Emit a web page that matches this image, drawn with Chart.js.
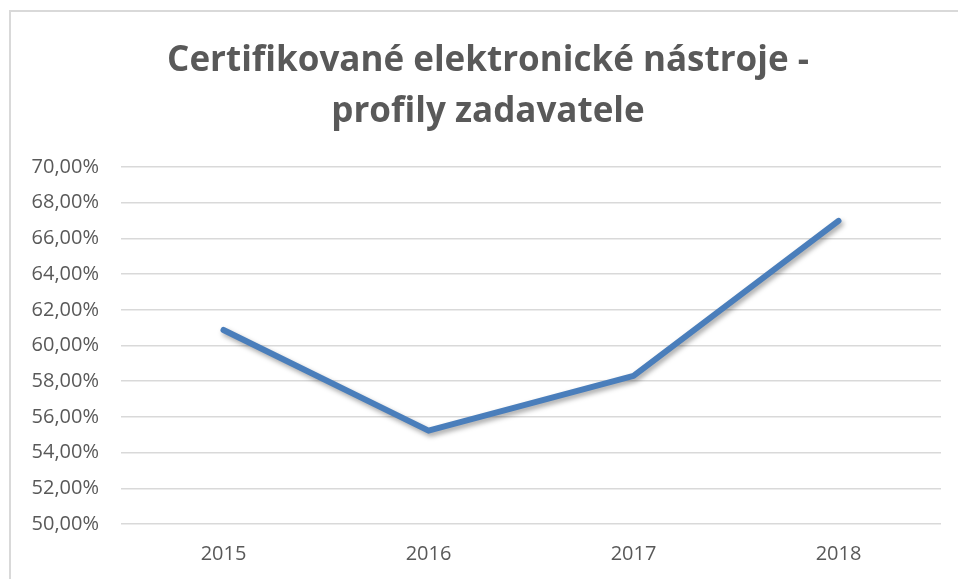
<!DOCTYPE html>
<html>
<head>
<meta charset="utf-8">
<script src="https://cdn.jsdelivr.net/npm/chart.js@4/dist/chart.umd.min.js"></script>
<style>
  html, body { margin: 0; padding: 0; background: #ffffff; }
  #wrap { width: 958px; height: 579px; position: relative; }
</style>
</head>
<body>
<div id="wrap"><canvas id="c" width="958" height="579"></canvas></div>
<script>
const titleLines = ["Certifikované elektronické nástroje -", "profily zadavatele"];
const categories = ["2015", "2016", "2017", "2018"];
const seriesValues = [60.87, 55.23, 58.3, 66.98];
const yMin = 50;
const yMax = 70;
const yStep = 2;

const frame = {
  id: 'frame',
  beforeDraw(chart) {
    const ctx = chart.ctx;
    ctx.save();
    ctx.fillStyle = '#ffffff';
    ctx.fillRect(0, 0, chart.width, chart.height);
    ctx.fillStyle = '#d9d9d9';
    ctx.fillRect(9, 10, 2, chart.height - 10);
    ctx.fillRect(9, 10, chart.width - 9, 2);
    ctx.restore();
  }
};

const lineShadow = {
  id: 'lineShadow',
  beforeDatasetDraw(chart) {
    const ctx = chart.ctx;
    ctx.save();
    ctx.shadowColor = 'rgba(0,0,0,0.35)';
    ctx.shadowBlur = 5;
    ctx.shadowOffsetX = 2;
    ctx.shadowOffsetY = 3;
  },
  afterDatasetDraw(chart) {
    chart.ctx.restore();
  }
};

new Chart(document.getElementById('c'), {
  type: 'line',
  data: {
    labels: categories,
    datasets: [{
      data: seriesValues,
      borderColor: '#4a7ebb',
      borderWidth: 6,
      borderCapStyle: 'round',
      borderJoinStyle: 'round',
      pointRadius: 0,
      pointHoverRadius: 0,
      tension: 0,
      fill: false
    }]
  },
  options: {
    responsive: false,
    animation: false,
    events: [],
    layout: { padding: { left: 18, right: 0, top: 20, bottom: 10 } },
    plugins: {
      legend: { display: false },
      tooltip: { enabled: false },
      title: {
        display: true,
        text: titleLines,
        color: '#595959',
        font: { family: "'Open Sans'", size: 35, weight: 'bold', lineHeight: '51px' },
        padding: { top: 16, bottom: 29 }
      }
    },
    scales: {
      x: {
        offset: true,
        grid: { display: false, drawTicks: false },
        border: { display: false },
        ticks: {
          color: '#595959',
          font: { family: "'Open Sans'", size: 20 },
          padding: 18,
          maxRotation: 0
        },
        afterFit(scale) { scale.height = 45; }
      },
      y: {
        min: yMin,
        max: yMax,
        grid: { color: '#d9d9d9', lineWidth: 1.5, drawTicks: false },
        border: { display: false },
        ticks: {
          stepSize: yStep,
          color: '#595959',
          font: { family: "'Open Sans'", size: 20 },
          padding: 22,
          callback: (v) => v.toFixed(2).replace('.', ',') + '%'
        },
        afterFit(scale) { scale.width = 103; }
      },
      yRightGap: {
        position: 'right',
        grid: { display: false, drawTicks: false },
        border: { display: false },
        ticks: { display: false },
        afterFit(scale) { scale.width = 17; }
      }
    }
  },
  plugins: [frame, lineShadow]
});
</script>
</body>
</html>
